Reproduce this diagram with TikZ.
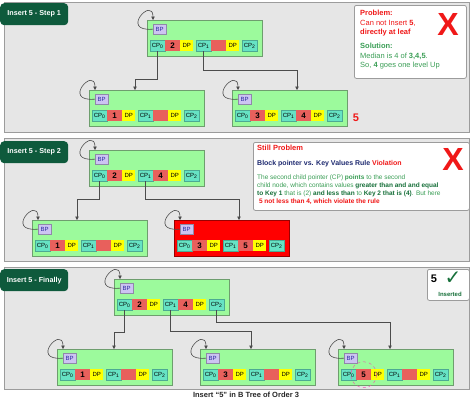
\documentclass[tikz,border=0pt]{standalone}
\usepackage{fontspec}
\setmainfont{Liberation Sans}
\newfontfamily\symfont{DejaVu Sans}
\usetikzlibrary{arrows.meta}

\definecolor{panelgray}{HTML}{E6E6E6}
\definecolor{panelline}{HTML}{9C9C9C}
\definecolor{tagfill}{HTML}{0E5A3C}
\definecolor{nodegreen}{HTML}{9CFA9C}
\definecolor{nodeline}{HTML}{6E9E6E}
\definecolor{cpfill}{HTML}{66E3C4}
\definecolor{keyfill}{HTML}{E8605C}
\definecolor{dpfill}{HTML}{FFFF00}
\definecolor{bpfill}{HTML}{CCC4F2}
\definecolor{bptext}{HTML}{2A2AA0}
\definecolor{xred}{HTML}{F01818}
\definecolor{okgreen}{HTML}{3A9E55}
\definecolor{darkgreen}{HTML}{17703A}
\definecolor{navy}{HTML}{1E2A70}

\tikzset{
	panel/.style={draw=panelline,fill=panelgray,line width=0.8pt,anchor=north west,minimum width=465pt,inner sep=0pt},
	tag/.style={fill=tagfill,rounded corners=4pt,text=white,font=\fontsize{7.2}{8}\selectfont\bfseries,inner sep=0pt,anchor=north west,minimum width=68pt,minimum height=22pt},
	bnode/.style={draw=nodeline,fill=nodegreen,line width=0.6pt,anchor=north west,minimum width=115pt,minimum height=36pt,inner sep=0pt},
	badnode/.style={draw=red!60!black,fill=red,line width=1pt},
	cell/.style={anchor=north west,inner sep=0pt,minimum height=11pt,font=\fontsize{6}{6}\selectfont},
	cp/.style={cell,fill=cpfill,draw=cpfill!75!black,line width=0.3pt,minimum width=15pt},
	key/.style={cell,fill=keyfill,minimum width=15pt,font=\fontsize{8}{8}\selectfont\bfseries},
	dp/.style={cell,fill=dpfill,minimum width=13pt},
	bp/.style={cell,fill=bpfill,draw=bpfill!70!black,line width=0.3pt,minimum width=13pt,minimum height=10pt,text=bptext},
	link/.style={draw=black!70,line width=0.6pt,-{Triangle[length=3.5pt,width=3.5pt]}},
	note/.style={draw=panelline,fill=white,line width=0.8pt,rounded corners=2pt,anchor=north west,inner sep=0pt},
	bigx/.style={text=xred,font=\fontsize{32}{32}\selectfont\bfseries}
}

\newcommand{\btree}[6]{%
	\node[bnode,#6] (#1) at (#2,#3) {};
	\node[bp] (#1-bp) at (#2+6,#3+4) {BP};
	\node[cp] (#1-cp0) at (#2+3,#3+20) {CP\textsubscript{0}};
	\node[key] (#1-k1) at (#2+18,#3+20) {#4};
	\node[dp] (#1-dp1) at (#2+33,#3+20) {DP};
	\node[cp] (#1-cp1) at (#2+49,#3+20) {CP\textsubscript{1}};
	\node[key] (#1-k2) at (#2+64,#3+20) {#5};
	\node[dp] (#1-dp2) at (#2+79,#3+20) {DP};
	\node[cp] (#1-cp2) at (#2+95,#3+20) {CP\textsubscript{2}};
	\path[link] (#1-bp.west) .. controls +(-34,3) and +(0,-24) .. (#1-bp.north west |- #1.north);
}

\begin{document}
\begin{tikzpicture}[x=1pt,y=-1pt]
	\useasboundingbox[fill=white] (0,0) rectangle (474,400);

	\node[panel,minimum height=130pt] (p1) at (4,2) {};
	\node[panel,minimum height=123pt] (p2) at (4,138) {};
	\node[panel,minimum height=122pt] (p3) at (4,267) {};
	\node[tag] (t1) at (0,3)   {Insert 5 - Step 1};
	\node[tag] (t2) at (0,141) {Insert 5 - Step 2};
	\node[tag] (t3) at (0,269) {Insert 5 - Finally};

	\btree{r1}{147}{20}{2}{}{}
	\btree{a1}{89}{90}{1}{}{}
	\btree{b1}{232}{90}{3}{4}{}
	\node[text=xred,font=\fontsize{11}{11}\selectfont\bfseries] (five) at (356,118) {5};
	\path[link] (r1-cp0.south) -- ++(0,28) -| ([xshift=46pt]a1.north west);
	\path[link] (r1-cp1.south) -- ++(0,19) -| ([xshift=65pt]b1.north west);

	\node[note,minimum width=112pt,minimum height=73pt] (n1) at (354,5) {};
	\node[anchor=north west,inner sep=0pt,align=left,text=xred,font=\fontsize{7.5}{9.5}\selectfont] (n1txt) at (360,10)
		{\textbf{Problem:}\\Can not Insert \textbf{5},\\\textbf{directly at leaf}\\[4.5pt]
		{\color{okgreen}\textbf{Solution:}}\\{\color{okgreen}Median is 4 of \textbf{3,4,5}.}\\{\color{okgreen}So, \textbf{4} goes one level Up}};
	\node[bigx] (x1) at (448,24) {X};

	\btree{r2}{89}{150}{2}{4}{}
	\btree{a2}{32}{220}{1}{}{}
	\btree{b2}{174}{220}{3}{5}{badnode}
	\path[link] (r2-cp0.south) -- ++(0,18) -| ([xshift=45pt]a2.north west);
	\path[link] (r2-cp1.south) -- ++(0,18) -| ([xshift=65pt]b2.north west);

	\node[note,minimum width=216pt,minimum height=68pt] (n2) at (253,142) {};
	\node[anchor=north west,inner sep=0pt,align=left,text=okgreen,font=\fontsize{6.5}{8}\selectfont] (n2txt) at (257,145)
		{{\color{xred}\fontsize{7.5}{8}\selectfont\bfseries Still Problem}\\[7pt]
		{\fontsize{7}{8}\selectfont\bfseries\color{navy}Block pointer vs. Key Values Rule \color{xred}Violation}\\[6pt]
		The second child pointer (CP) \textbf{points} to the second\\
		child node, which contains values {\color{darkgreen}\textbf{greater than and and equal}}\\
		{\color{darkgreen}\textbf{to Key 1}} that is (2) {\color{darkgreen}\textbf{and less than}} to {\color{darkgreen}\textbf{Key 2 that is (4)}}. But here\\
		\ {\color{xred}\textbf{5 not less than 4, which violate the rule}}};
	\node[bigx] (x2) at (453,159) {X};

	\btree{r3}{114}{279}{2}{4}{}
	\btree{a3}{57}{349}{1}{}{}
	\btree{b3}{200}{349}{3}{}{}
	\btree{c3}{338}{349}{5}{}{}
	\path[link] (r3-cp0.south) -- ++(0,22) -| ([xshift=57pt]a3.north west);
	\path[link] (r3-cp1.south) -- ++(0,21) -| ([xshift=51pt]b3.north west);
	\path[link] (r3-cp2.south) -- ++(0,12) -| ([xshift=52pt]c3.north west);
	\node[circle,draw=magenta!70,dashed,line width=0.4pt,minimum size=26pt] (ring) at (c3-k1.center) {};

	\node[note,minimum width=42pt,minimum height=31pt] (n3) at (427,269) {};
	\node[font=\fontsize{11}{11}\selectfont\bfseries] (ok5) at (434,279) {5};
	\node[text=darkgreen,font=\symfont\fontsize{20}{20}\selectfont] (tick) at (453,278) {✓};
	\node[text=darkgreen,font=\fontsize{6}{6}\selectfont\bfseries] (oktxt) at (450,294) {Inserted};

	\node[font=\fontsize{7.5}{8}\selectfont\bfseries,text=black!85] (cap) at (246,395) {Insert “5” in B Tree of Order 3};
\end{tikzpicture}
\end{document}
